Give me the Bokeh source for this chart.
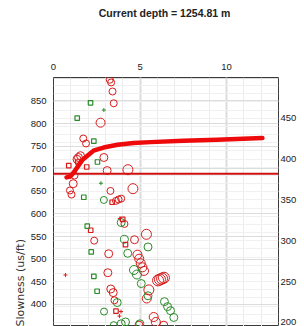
import math
from bokeh.plotting import figure
from bokeh.models import (Range1d, LinearAxis, FixedTicker, Grid, Title)
from bokeh.embed import file_html
from bokeh.resources import INLINE

# ---- data (frequency kHz, slowness us/ft on left axis) ----
title_text = "Current depth  = 1254.81 m"
y_label = "Slowness (us/ft)"
x_ticks = [0, 5, 10]
left_ticks = [400, 450, 500, 550, 600, 650, 700, 750, 800, 850]
right_ticks = [200, 250, 300, 350, 400, 450]

red_circ_x = [3.25, 3.33, 3.41, 3.48, 2.72, 1.72, 1.88, 1.56, 1.44, 1.36, 2.91, 3.10, 4.30, 1.21, 1.14,
              4.59, 3.29, 0.95, 1.04, 3.61, 3.76, 3.91, 4.10, 5.37, 2.35, 4.68, 3.19, 4.85, 4.95, 5.04,
              5.14, 5.23, 3.14, 6.04, 6.15, 6.27, 6.38, 5.51, 5.39, 3.31, 3.45, 3.52, 5.79, 5.91, 4.94, 6.37]
red_circ_y = [897, 891, 871, 845, 802, 767, 756, 729, 725, 721, 725, 696, 698, 685, 667,
              656, 651, 652, 643, 629, 632, 634, 578, 555, 541, 543, 512, 510, 501, 491,
              482, 474, 470, 453, 455, 457, 459, 432, 413, 434, 426, 409, 372, 361, 354, 354]
red_circ_s = [7, 7, 7, 7, 9, 7, 7, 8, 8, 8, 8, 8, 10, 7, 8,
              10, 7, 7, 7, 7, 7, 7, 7, 10, 7, 8, 8, 9, 9, 9,
              9, 9, 8, 11, 11, 11, 11, 10, 9, 8, 8, 7, 9, 9, 8, 8]

green_circ_x = [2.91, 3.91, 4.10, 5.46, 4.29, 4.65, 4.82, 5.07, 5.46, 3.68, 2.92, 6.41, 6.59, 6.76,
                6.95, 3.91, 4.16, 3.48, 4.99]
green_circ_y = [631, 581, 544, 527, 513, 476, 466, 446, 419, 404, 384, 406, 395, 386,
                371, 357, 361, 354, 357]
green_circ_s = [7, 8, 8, 8, 8, 9, 9, 8, 8, 8, 7, 8, 8, 8, 8, 8, 8, 7, 8]

red_sq_x = [0.88, 1.40, 1.92, 3.39, 4.00, 2.15, 4.16, 3.61]
red_sq_y = [707, 715, 704, 626, 588, 564, 532, 385]

green_sq_x = [2.14, 1.37, 2.33, 2.54, 1.75, 1.95, 2.18, 2.33, 2.52]
green_sq_y = [846, 812, 761, 715, 637, 573, 516, 462, 429]

red_cross_x = [0.69, 3.83, 3.90, 3.81]
red_cross_y = [465, 590, 384, 374]

green_cross_x = [2.91, 2.74]
green_cross_y = [830, 668]

curve_x = [0.75, 0.98, 1.21, 1.44, 1.68, 1.96, 2.31, 2.89, 3.70, 4.62, 5.60, 7.51, 9.47, 12.07]
curve_y = [681, 683, 694, 707, 720, 729, 740, 747, 753, 757, 759, 762, 764, 768]

current_slowness = 689

RED = "#d81c1c"
GREEN = "#2b8c2b"

p = figure(width=304, height=326, output_backend="svg", toolbar_location=None,
           x_range=Range1d(0, 13), y_range=Range1d(351, 902),
           x_axis_location="above",
           min_border_left=53, min_border_right=26, min_border_top=77, min_border_bottom=0)
p.extra_y_ranges = {"right": Range1d(195, 500)}
p.outline_line_color = "#3a3a3a"
p.outline_line_width = 1
p.background_fill_color = "white"
p.border_fill_color = "white"

# grids
p.xgrid.ticker = FixedTicker(ticks=list(range(0, 14)))
p.xgrid.grid_line_color = "#ececec"
p.add_layout(Grid(dimension=0, ticker=FixedTicker(ticks=[5, 10]), grid_line_color="#dcdcdc", grid_line_width=2))
p.ygrid.ticker = FixedTicker(ticks=[350, 400, 450, 500, 550, 600, 650, 700, 750, 800, 850, 900])
p.ygrid.grid_line_color = "#dcdcdc"
p.add_layout(Grid(dimension=1, ticker=FixedTicker(ticks=list(range(200, 500, 10))),
                  y_range_name="right", grid_line_color="#f0f0f0"))

# axes
ax = p.xaxis[0]
ax.ticker = FixedTicker(ticks=x_ticks)
ay = p.yaxis[0]
ay.ticker = FixedTicker(ticks=left_ticks)
ra = LinearAxis(y_range_name="right", ticker=FixedTicker(ticks=right_ticks))
p.add_layout(ra, "right")
for a, st in ((ax, 8), (ay, 7), (ra, 2)):
    a.axis_line_color = None
    a.major_tick_line_color = None
    a.minor_tick_line_color = None
    a.major_tick_out = 0
    a.major_tick_in = 0
    a.minor_tick_out = 0
    a.major_label_standoff = st
    a.major_label_text_font = "Liberation Sans"
    a.major_label_text_font_size = "9.5px"
    a.major_label_text_color = "#222222"

# chart title carried by the top axis label
ax.axis_label = title_text
ax.axis_label_text_font = "Liberation Sans"
ax.axis_label_text_font_style = "bold"
ax.axis_label_text_font_size = "10.5px"
ax.axis_label_text_color = "#222222"
ax.axis_label_standoff = 42

# data marks
p.line([0, 13], [current_slowness, current_slowness], line_color="#d01010", line_width=2)
p.scatter(red_circ_x, red_circ_y, size=red_circ_s, marker="circle", fill_color=None,
          line_color=RED, line_width=1)
p.scatter(green_circ_x, green_circ_y, size=green_circ_s, marker="circle", fill_color=None,
          line_color=GREEN, line_width=1)
p.scatter(red_sq_x, red_sq_y, size=4.5, marker="square", fill_color=None, line_color=RED, line_width=1.2)
p.scatter(green_sq_x, green_sq_y, size=4.5, marker="square", fill_color=None, line_color=GREEN, line_width=1.2)
p.scatter(red_cross_x, red_cross_y, size=4, marker="cross", line_color=RED, line_width=1)
p.scatter(green_cross_x, green_cross_y, size=4, marker="cross", line_color=GREEN, line_width=1)
p.line(curve_x, curve_y, line_color="#ee0a0a", line_width=4.5, line_cap="round", line_join="round")

p.add_layout(Title(text=y_label, align="left", vertical_align="middle", text_font="DejaVu Sans",
                   text_font_style="normal", text_font_size="11px", text_color="#333333",
                   standoff=0), "left")

open("out.html", "w").write(file_html(p, INLINE))
